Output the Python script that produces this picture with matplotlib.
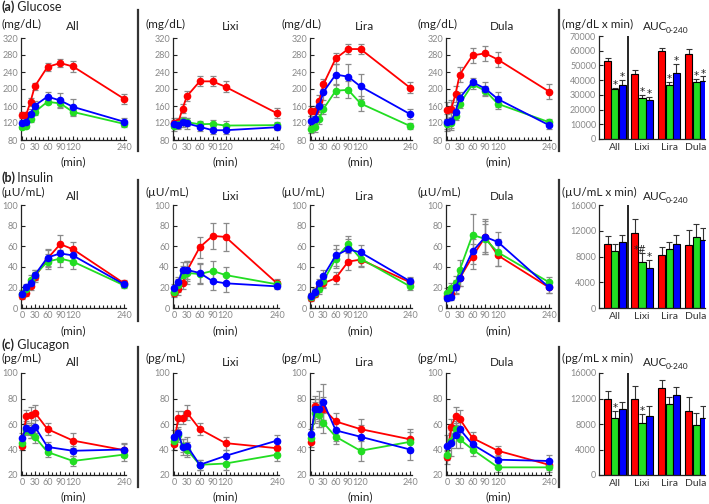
import numpy as np
import matplotlib
matplotlib.use("Agg")
import matplotlib.pyplot as plt
from matplotlib.lines import Line2D

plt.rcParams['font.family'] = ['Lato', 'DejaVu Sans']

# ---------------- data ----------------
times = [0, 10, 20, 30, 60, 90, 120, 240]
times_gcg = [0, 10, 20, 30, 60, 120, 240]
groups = ["All", "Lixi", "Lira", "Dula"]

# each panel: [red, green, blue]
glu_all = [[138, 140, 170, 206, 252, 261, 253, 177],
           [111, 113, 130, 146, 170, 166, 146, 118],
           [120, 122, 142, 161, 182, 173, 158, 123]]
glu_all_err = [[7, 6, 10, 9, 10, 10, 13, 12],
               [5, 5, 7, 8, 6, 8, 9, 7],
               [8, 8, 10, 10, 12, 18, 18, 9]]
glu_lixi = [[121, 122, 154, 183, 218, 218, 205, 143],
            [112, 118, 125, 122, 117, 118, 114, 115],
            [118, 115, 122, 119, 111, 103, 103, 110]]
glu_lixi_err = [[10, 10, 10, 12, 12, 12, 13, 12],
                [10, 10, 10, 10, 8, 10, 10, 8],
                [10, 10, 12, 12, 10, 8, 8, 7]]
glu_lira = [[148, 148, 172, 211, 272, 294, 294, 203],
            [106, 110, 130, 153, 196, 198, 166, 113],
            [125, 130, 160, 193, 234, 229, 206, 141]]
glu_lira_err = [[12, 12, 14, 12, 12, 12, 12, 13],
                [10, 10, 12, 12, 15, 20, 18, 8],
                [12, 12, 15, 20, 25, 30, 30, 12]]
glu_dula = [[150, 153, 188, 234, 279, 284, 269, 194],
            [117, 120, 137, 165, 211, 196, 165, 122],
            [122, 124, 147, 179, 216, 201, 176, 115]]
glu_dula_err = [[20, 20, 18, 18, 18, 18, 18, 18],
                [12, 12, 10, 10, 10, 12, 12, 8],
                [20, 20, 15, 15, 10, 15, 18, 8]]

ins_all = [[12, 15, 21, 30, 48, 62, 57, 24],
           [14, 18, 27, 32, 45, 48, 45, 22],
           [14, 20, 24, 32, 49, 53, 51, 23]]
ins_all_err = [[3, 3, 4, 5, 8, 9, 7, 3],
               [3, 3, 5, 5, 7, 8, 7, 3],
               [3, 3, 4, 5, 8, 8, 6, 3]]
ins_lixi = [[15, 18, 24, 36, 59, 70, 69, 24],
            [16, 22, 32, 34, 33, 36, 32, 23],
            [19, 25, 37, 37, 34, 26, 24, 21]]
ins_lixi_err = [[4, 5, 6, 10, 10, 13, 14, 4],
                [4, 6, 9, 11, 10, 10, 8, 3],
                [4, 5, 8, 9, 10, 9, 8, 3]]
ins_lira = [[10, 14, 20, 24, 29, 45, 47, 25],
            [11, 15, 18, 26, 48, 62, 48, 21],
            [12, 16, 24, 31, 51, 57, 54, 26]]
ins_lira_err = [[3, 3, 4, 5, 6, 8, 7, 4],
                [3, 3, 4, 6, 9, 8, 7, 4],
                [3, 3, 4, 6, 10, 10, 7, 4]]
ins_dula = [[12, 14, 21, 29, 50, 69, 51, 20],
            [15, 19, 24, 37, 71, 67, 54, 25],
            [10, 11, 20, 29, 55, 69, 64, 20]]
ins_dula_err = [[4, 4, 6, 8, 12, 15, 10, 5],
                [4, 5, 7, 10, 20, 15, 13, 5],
                [3, 3, 6, 8, 12, 17, 10, 5]]

gcg_all = [[43, 66, 67, 69, 56, 47, 39.5],
           [45, 55, 54, 50, 38, 31, 36],
           [49, 57, 55, 58, 42, 39, 40]]
gcg_all_err = [[3, 5, 6, 6, 5, 6, 5],
               [3, 4, 5, 5, 4, 4, 5],
               [4, 5, 6, 5, 4, 4, 5]]
gcg_lixi = [[44, 65, 65, 69, 56, 45, 41],
            [47, 51, 43, 40, 28, 29, 36],
            [50, 53, 42, 43, 28, 35, 47]]
gcg_lixi_err = [[4, 5, 5, 6, 5, 5, 4],
                [4, 5, 5, 6, 4, 5, 5],
                [5, 5, 6, 7, 4, 5, 4]]
gcg_lira = [[46, 74, 71, 72, 62, 56, 48],
            [49, 69, 67, 61, 50, 39, 46],
            [52, 72, 72, 77, 55, 50, 40]]
gcg_lira_err = [[4, 8, 9, 9, 7, 8, 8],
                [3, 8, 9, 8, 6, 8, 8],
                [4, 8, 14, 14, 8, 9, 8]]
gcg_dula = [[34, 58, 66, 64, 49, 39, 28],
            [36, 47, 56, 48, 40, 26, 26],
            [43, 45, 51, 56, 44, 32, 31]]
gcg_dula_err = [[5, 6, 7, 7, 5, 4, 4],
                [4, 6, 6, 7, 5, 4, 4],
                [8, 10, 10, 8, 5, 4, 5]]

# AUC per group (All, Lixi, Lira, Dula)
glu_auc = [[53000, 44000, 59500, 57500],
           [34000, 28000, 37000, 38500],
           [36500, 26500, 45000, 39500]]
glu_auc_err = [[2000, 3000, 2500, 4000],
               [1000, 2000, 2000, 2500],
               [3500, 2000, 6000, 3000]]
glu_auc_marks = [["", "", "", ""], ["*", "*", "*", "*"], ["*", "*", "*", "*"]]

ins_auc = [[10000, 11700, 8200, 9800],
           [8800, 7200, 9100, 11000],
           [10200, 6200, 9900, 10600]]
ins_auc_err = [[1200, 2100, 1300, 2300],
               [1100, 1400, 1200, 2000],
               [1100, 1300, 1400, 1900]]
ins_auc_marks = [["", "", "", ""], ["", "*#", "", ""], ["", "*", "", ""]]

gcg_auc = [[12000, 11900, 13700, 10100],
           [9000, 8100, 11100, 7800],
           [10300, 9300, 12500, 9000]]
gcg_auc_err = [[1100, 2000, 1200, 2200],
               [1100, 1500, 1200, 2000],
               [1100, 1500, 1300, 1900]]
gcg_auc_marks = [["", "", "", ""], ["*", "*", "", ""], ["", "", "", ""]]

# ---------------- layout ----------------
W, H = 709, 504
fig = plt.figure(figsize=(W / 100, H / 100), dpi=100)
colors = ["#ff0000", "#22dd22", "#0000ff"]
grey = "#888888"

col_x = [(22, 124), (174, 277), (311, 410), (447, 549)]
auc_x = (599, 705)


def px_axes(x0, y0, x1, y1):
    return fig.add_axes([x0 / W, 1 - y1 / H, (x1 - x0) / W, (y1 - y0) / H])


def ftext(x, y, s, **kw):
    fig.text(x / W, 1 - y / H, s, va="center", **kw)


def style_axes(ax):
    for s in ["top", "right"]:
        ax.spines[s].set_visible(False)
    for s in ["left", "bottom"]:
        ax.spines[s].set_color("#222222")
        ax.spines[s].set_linewidth(0.9)
    ax.tick_params(direction="in", length=3, width=0.8, color="#222222",
                   labelsize=6.5, labelcolor=grey, pad=2)


def line_panel(x0, x240, ytop, ybot, ylim, yticks, t, data, err):
    s = (x240 - x0) / 240
    ax = px_axes(x0 - 3 * s, ytop, x240 + 5 * s, ybot)
    ax.set_xlim(-3, 245)
    ax.set_ylim(*ylim)
    for c, d, e in zip(colors, data, err):
        ax.errorbar(t, d, yerr=e, fmt="none", ecolor="#8a8a8a", elinewidth=0.9,
                    capsize=2, capthick=0.9, zorder=1, clip_on=False)
    for c, d in zip(colors, data):
        ax.plot(t, d, color=c, lw=1.3, marker="o", ms=4.5, zorder=3, clip_on=False)
    style_axes(ax)
    ax.set_xticks([0, 30, 60, 90, 120, 240])
    ax.set_xticks(np.arange(0, 241, 10), minor=True)
    ax.tick_params(which="minor", direction="in", length=2.5, width=0.8, color="#222222")
    ax.set_yticks(yticks)
    return ax


def auc_panel(ytop, ybot, ymax, ystep, vals, errs, marks):
    ax = px_axes(auc_x[0], ytop, auc_x[1], ybot)
    ax.set_xlim(-0.59, 3.33)
    ax.set_ylim(0, ymax)
    x = np.arange(4)
    for i, (c, v, e, m) in enumerate(zip(colors, vals, errs, marks)):
        xi = x + (i - 1) * 0.27
        ax.bar(xi, v, width=0.26, color=c, edgecolor="black", linewidth=0.8, zorder=2)
        ax.errorbar(xi, v, yerr=[np.zeros(4), e], fmt="none", ecolor="#333333",
                    elinewidth=0.8, capsize=2, capthick=0.8, zorder=1)
        for xx, vv, ee, mm in zip(xi, v, e, m):
            if mm:
                dx = -0.08 if len(mm) > 1 else 0
                ax.text(xx + dx, vv + ee - ymax * 0.02, mm, ha="center", va="bottom",
                        fontsize=7.5 if len(mm) == 1 else 7, color="#222222",
                        family="DejaVu Sans")
    ax.axvline(0.5, color="black", lw=1.2)
    style_axes(ax)
    ax.set_xticks(x)
    ax.set_xticklabels(groups)
    ax.tick_params(axis="x", length=0, labelsize=7.5, labelcolor="#333333", pad=3)
    ax.set_yticks(np.arange(0, ymax + 1, ystep))
    return ax


rows = [
    dict(ytop=38, ybot=140, ylim=(80, 320), yticks=range(80, 321, 40), t=times,
         data=[(glu_all, glu_all_err), (glu_lixi, glu_lixi_err),
               (glu_lira, glu_lira_err), (glu_dula, glu_dula_err)],
         auc=(36, 139, 70000, 10000, glu_auc, glu_auc_err, glu_auc_marks),
         head=("(a)", " Glucose"), y_head=7, unit="(mg/dL)", auc_unit="(mg/dL x min)",
         y_unit=24, y_title=27, y_min=162, sep=(10, 151)),
    dict(ytop=205, ybot=308, ylim=(0, 100), yticks=range(0, 101, 20), t=times,
         data=[(ins_all, ins_all_err), (ins_lixi, ins_lixi_err),
               (ins_lira, ins_lira_err), (ins_dula, ins_dula_err)],
         auc=(205, 308, 16000, 4000, ins_auc, ins_auc_err, ins_auc_marks),
         head=("(b)", " Insulin"), y_head=178, unit="(\u00b5U/mL)", auc_unit="(\u00b5U/mL x min)",
         y_unit=192, y_title=197, y_min=331, sep=(180, 321)),
    dict(ytop=373, ybot=475, ylim=(20, 100), yticks=range(20, 101, 20), t=times_gcg,
         data=[(gcg_all, gcg_all_err), (gcg_lixi, gcg_lixi_err),
               (gcg_lira, gcg_lira_err), (gcg_dula, gcg_dula_err)],
         auc=(373, 475, 16000, 4000, gcg_auc, gcg_auc_err, gcg_auc_marks),
         head=("(c)", " Glucagon"), y_head=345, unit="(pg/mL)", auc_unit="(pg/mL x min)",
         y_unit=358, y_title=363, y_min=497, sep=(347, 487)),
]

unit_x = [1, 145, 282, 418]
title_x = [73, 231, 364, 502]

for r in rows:
    for k, ((x0, x240), (d, e)) in enumerate(zip(col_x, r["data"])):
        line_panel(x0, x240, r["ytop"], r["ybot"], r["ylim"], r["yticks"], r["t"], d, e)
        ftext(unit_x[k], r["y_unit"], r["unit"], fontsize=8.5, color="#222222")
        ftext(title_x[k], r["y_title"], groups[k], fontsize=8.5, color="#222222", ha="center")
        ftext((x0 + x240) / 2, r["y_min"], "(min)", fontsize=8.5, color="#222222", ha="center")
    auc_panel(*r["auc"])
    ftext(562, r["y_unit"], r["auc_unit"], fontsize=8.5, color="#222222")
    ftext(643, r["y_title"], "AUC", fontsize=8.5, color="#222222")
    ftext(665.5, r["y_title"] + 3.5, "0-240", fontsize=6, color="#222222")
    ftext(1, r["y_head"], r["head"][0], fontsize=9, fontweight="bold", color="#222222")
    ftext(14, r["y_head"], r["head"][1], fontsize=9, color="#222222")
    for sx in (138, 559):
        fig.add_artist(Line2D([sx / W, sx / W], [1 - r["sep"][0] / H, 1 - r["sep"][1] / H],
                              color="#333333", lw=1.6))

fig.savefig("out.png", dpi=100)
